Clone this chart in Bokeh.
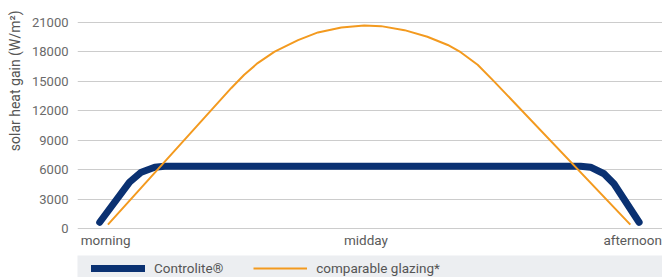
from bokeh.plotting import figure
from bokeh.models import Range1d, FixedTicker, Legend, Title
from bokeh.layouts import column
from bokeh.embed import file_html
from bokeh.resources import INLINE

# ---- data ----
ctrl_x = [3.8, 8.9, 10.9, 13.2, 14.9, 50.0, 86.0, 87.7, 90.0, 91.7, 96.0]
ctrl_y = [640, 4720, 5740, 6250, 6350, 6350, 6350, 6250, 5580, 4560, 640]

glaz_x = [5.2, 26.3, 28.5, 30.8, 33.7, 37.7, 41.1, 45.1, 49.0, 51.9,
          55.9, 59.8, 63.3, 65.5, 68.4, 71.2, 94.5]
glaz_y = [400, 14330, 15680, 16860, 18030, 19210, 19990, 20500, 20700, 20630,
          20220, 19550, 18710, 17970, 16690, 15000, 400]

x_tick_pos = [4.8, 49.3, 94.9]
x_tick_labels = ["morning", "midday", "afternoon"]
y_ticks = [0, 3000, 6000, 9000, 12000, 15000, 18000, 21000]

series_names = ["Controlite\u00ae", "comparable glazing*"]
NAVY = "#0a3172"
ORANGE = "#f39a1f"
FONT = "Roboto"

p = figure(width=662, height=255, output_backend="svg", toolbar_location=None,
           x_range=Range1d(0, 100), y_range=Range1d(-102, 23243),
           min_border_left=76, min_border_right=0, min_border_top=0,
           min_border_bottom=26, outline_line_color=None,
           background_fill_color="white", border_fill_color="white")

p.line(ctrl_x, ctrl_y, line_color=NAVY, line_width=7, line_cap="round", line_join="round")
p.line(glaz_x, glaz_y, line_color=ORANGE, line_width=2, line_join="round")

p.xgrid.visible = False
p.ygrid.grid_line_color = "#cccccc"
p.ygrid.grid_line_width = 1.2

yax = p.yaxis[0]
yax.ticker = FixedTicker(ticks=y_ticks)
yax.axis_line_color = None
yax.major_tick_line_color = None
yax.minor_tick_line_color = None
yax.major_tick_out = 0
yax.major_tick_in = 0
yax.minor_tick_out = 0
yax.major_label_standoff = 9
yax.major_label_text_font = FONT
yax.major_label_text_font_size = "13px"
yax.major_label_text_color = "#6a6a6a"

xax = p.xaxis[0]
xax.ticker = FixedTicker(ticks=x_tick_pos)
xax.major_label_overrides = {k: v for k, v in zip(x_tick_pos, x_tick_labels)}
xax.axis_line_color = None
xax.major_tick_line_color = None
xax.minor_tick_line_color = None
xax.major_tick_out = 0
xax.major_tick_in = 0
xax.minor_tick_out = 0
xax.major_label_standoff = 2
xax.major_label_text_font = FONT
xax.major_label_text_font_size = "13.5px"
xax.major_label_text_color = "#5a5a5a"

ylab = Title(text="solar heat gain (W/m\u00b2)", align="right", offset=10,
             vertical_align="middle",
             text_font=FONT, text_font_size="14px", text_font_style="normal",
             text_color="#555555", standoff=10)
p.add_layout(ylab, "left")

# ---- legend strip ----
p2 = figure(width=662, height=22, output_backend="svg", toolbar_location=None,
            x_range=Range1d(0, 1), y_range=Range1d(0, 1),
            x_axis_location=None, y_axis_location=None,
            min_border_left=74, min_border_right=0, min_border_top=0, min_border_bottom=0,
            background_fill_color="#eceef1", border_fill_color="white",
            outline_line_color=None)
p2.grid.visible = False
# the series are drawn here too, but fall outside this strip's range: only their legend swatches show
r1 = p2.line(ctrl_x, ctrl_y, line_color=NAVY, line_width=7, line_cap="round")
r2 = p2.line(glaz_x, glaz_y, line_color=ORANGE, line_width=2)
legend = Legend(items=[(series_names[0], [r1]), (series_names[1], [r2])],
                orientation="horizontal", location=(14, 0),
                padding=0, margin=0, spacing=30,
                glyph_width=54, glyph_height=18, label_height=18, label_standoff=9,
                label_text_font=FONT, label_text_font_size="13.5px",
                label_text_color="#555555",
                background_fill_alpha=0, border_line_color=None)
p2.add_layout(legend)

layout = column(p, p2, spacing=0)
open("out.html", "w").write(file_html(layout, INLINE))
